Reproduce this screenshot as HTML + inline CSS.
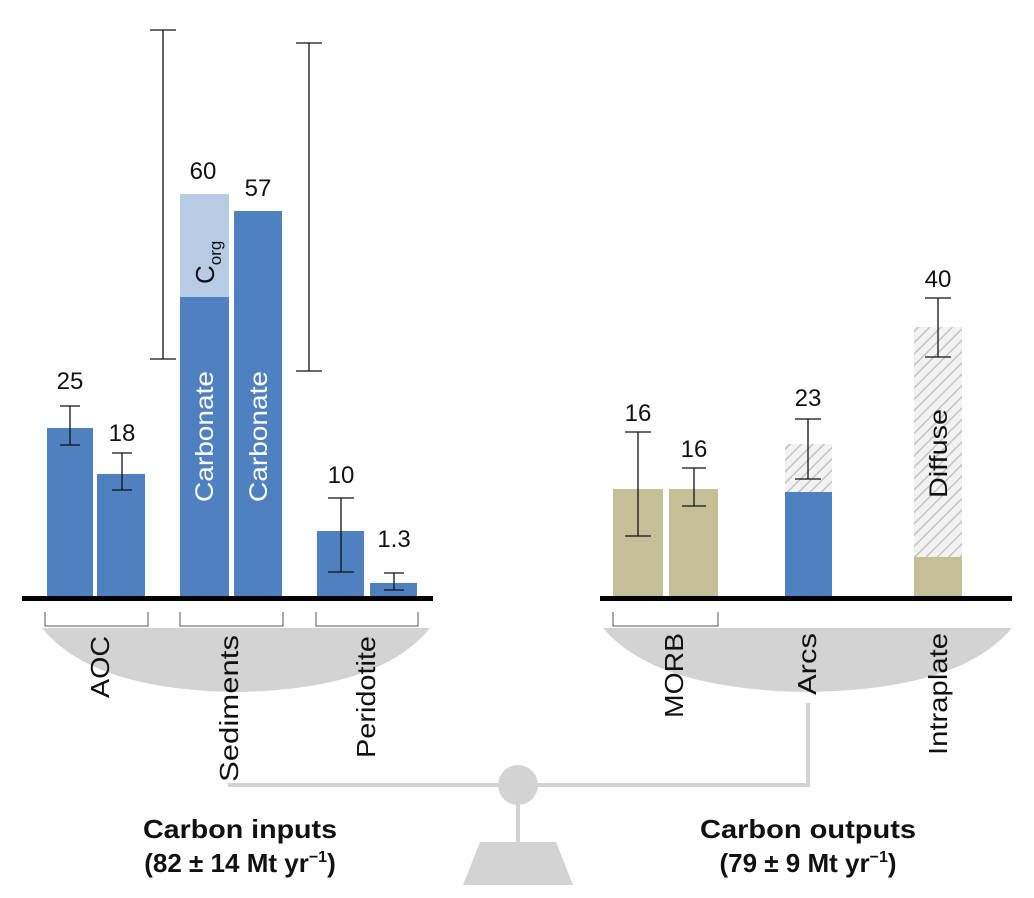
<!DOCTYPE html>
<html><head><meta charset="utf-8"><style>
html,body{margin:0;padding:0;background:#fff}
svg{display:block}
text{font-family:"Liberation Sans",Arial,sans-serif}
</style></head><body>
<svg width="1034" height="898" viewBox="0 0 1034 898" xmlns="http://www.w3.org/2000/svg">
<defs>
<pattern id="h" patternUnits="userSpaceOnUse" width="8" height="8" patternTransform="rotate(45)">
<rect width="8" height="8" fill="#f2f2f2"/><line x1="0" y1="0" x2="0" y2="8" stroke="#c4c4c4" stroke-width="3"/>
</pattern>
</defs>
<path d="M42 628 L430 628 Q380 690 236 692 Q92 690 42 628Z" fill="#d3d3d4"/>
<path d="M603 628 L1012 628 Q960 690 808 692 Q655 690 603 628Z" fill="#d3d3d4"/>
<g stroke="#d3d3d4" stroke-width="4" fill="none">
<path d="M228 785 H808 V703"/>
<line x1="518" y1="785" x2="518" y2="842"/>
</g>
<circle cx="518" cy="785" r="20" fill="#d3d3d4"/>
<path d="M480 842 H556 L573 885 H463Z" fill="#d3d3d4"/>
<g fill="#4f81c1">
<rect x="47" y="428" width="46" height="170"/>
<rect x="97" y="474" width="48" height="124"/>
<rect x="180" y="297" width="49" height="301"/>
<rect x="234" y="211" width="48" height="387"/>
<rect x="317" y="531" width="47" height="67"/>
<rect x="370" y="583" width="47" height="15"/>
<rect x="785" y="492" width="47" height="106"/>
</g>
<rect x="180" y="194" width="49" height="103" fill="#b7cce4"/>
<g fill="#c5bf98">
<rect x="613" y="489" width="50" height="109"/>
<rect x="669" y="489" width="49" height="109"/>
<rect x="914" y="557" width="48" height="41"/>
</g>
<rect x="785" y="444" width="47" height="48" fill="url(#h)"/>
<rect x="914" y="327" width="48" height="230" fill="url(#h)"/>
<rect x="22" y="596" width="411" height="5" fill="#000"/>
<rect x="600" y="596" width="412" height="5" fill="#000"/>
<g stroke="#111" stroke-width="1.3" fill="none">
<path d="M70 406V445M60 406H80M60 445H80"/>
<path d="M122 453V490M112 453H132M112 490H132"/>
<path d="M163 30V359M150 30H176M150 359H176"/>
<path d="M309 43V371M296 43H322M296 371H322"/>
<path d="M341 498V572M328 498H354M328 572H354"/>
<path d="M394 573V590M384 573H404M384 590H404"/>
<path d="M638 432V536M625 432H651M625 536H651"/>
<path d="M694 468V506M682 468H706M682 506H706"/>
<path d="M808 419V479M795 419H821M795 479H821"/>
<path d="M938 298V357M925 298H951M925 357H951"/>
</g>
<g stroke="#555" stroke-width="1" fill="none">
<path d="M45 612V626H148V612"/>
<path d="M180 612V626H283V612"/>
<path d="M316 612V626H418V612"/>
<path d="M613 612V626H718V612"/>
</g>
<g font-size="24" text-anchor="middle" fill="#111">
<text x="70" y="389">25</text>
<text x="122" y="441">18</text>
<text x="203" y="179">60</text>
<text x="258" y="196">57</text>
<text x="341" y="483">10</text>
<text x="394" y="547">1.3</text>
<text x="638" y="421">16</text>
<text x="694" y="457">16</text>
<text x="808" y="406">23</text>
<text x="938" y="287">40</text>
</g>
<g font-size="25" fill="#fff">
<text transform="translate(213,502) rotate(-90)" textLength="131" lengthAdjust="spacingAndGlyphs">Carbonate</text>
<text transform="translate(267,502) rotate(-90)" textLength="131" lengthAdjust="spacingAndGlyphs">Carbonate</text>
</g>
<text transform="translate(214,284) rotate(-90)" font-size="26" fill="#111">C<tspan font-size="17" dy="7">org</tspan></text>
<text transform="translate(947,498) rotate(-90)" font-size="25" fill="#111" textLength="89" lengthAdjust="spacingAndGlyphs">Diffuse</text>
<g font-size="26" fill="#111" text-anchor="end">
<text transform="translate(109,636) rotate(-90)" textLength="62" lengthAdjust="spacingAndGlyphs">AOC</text>
<text transform="translate(238,635) rotate(-90)" textLength="147" lengthAdjust="spacingAndGlyphs">Sediments</text>
<text transform="translate(375,636) rotate(-90)" textLength="122" lengthAdjust="spacingAndGlyphs">Peridotite</text>
<text transform="translate(683,633) rotate(-90)" textLength="85" lengthAdjust="spacingAndGlyphs">MORB</text>
<text transform="translate(816,633) rotate(-90)" textLength="62" lengthAdjust="spacingAndGlyphs">Arcs</text>
<text transform="translate(947,633) rotate(-90)" textLength="122" lengthAdjust="spacingAndGlyphs">Intraplate</text>
</g>
<g font-size="26" font-weight="bold" text-anchor="middle" fill="#111">
<text x="240" y="838" textLength="194" lengthAdjust="spacingAndGlyphs">Carbon inputs</text>
<text x="240" y="872">(82 ± 14 Mt yr<tspan font-size="16" dy="-10">−1</tspan><tspan dy="10">)</tspan></text>
<text x="808" y="838" textLength="216" lengthAdjust="spacingAndGlyphs">Carbon outputs</text>
<text x="808" y="872">(79 ± 9 Mt yr<tspan font-size="16" dy="-10">−1</tspan><tspan dy="10">)</tspan></text>
</g>
</svg>
</body></html>
